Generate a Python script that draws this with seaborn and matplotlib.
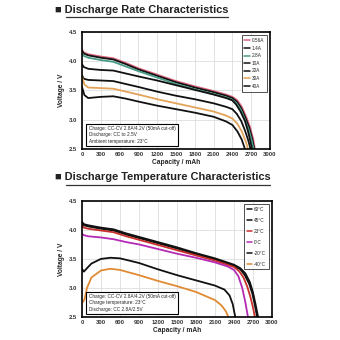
import numpy as np
import pandas as pd
import seaborn as sns
import matplotlib
matplotlib.use("Agg")
import matplotlib.pyplot as plt
from matplotlib.lines import Line2D

# ---------------- Discharge rate data ----------------
rate_labels = ["0.56A", "1.4A", "2.8A", "10A", "20A", "30A", "40A"]
rate_colors = ["#d9637a", "#111111", "#4a9a88", "#111111", "#111111", "#e3a35a", "#111111"]

cap_056 = [0, 30, 100, 300, 500, 700, 900, 1200, 1500, 1800, 2100, 2300, 2400, 2480, 2550, 2620, 2680, 2730, 2760]
v_056 = [4.20, 4.15, 4.12, 4.08, 4.05, 3.97, 3.88, 3.77, 3.66, 3.57, 3.49, 3.43, 3.39, 3.33, 3.22, 3.05, 2.88, 2.68, 2.50]
cap_14 = [0, 30, 100, 300, 500, 700, 900, 1200, 1500, 1800, 2100, 2300, 2400, 2470, 2540, 2610, 2670, 2720, 2750]
v_14 = [4.18, 4.13, 4.10, 4.06, 4.03, 3.95, 3.86, 3.75, 3.64, 3.55, 3.47, 3.41, 3.37, 3.31, 3.20, 3.03, 2.86, 2.66, 2.50]
cap_28 = [0, 30, 100, 300, 500, 700, 900, 1200, 1500, 1800, 2100, 2300, 2400, 2465, 2535, 2600, 2660, 2710, 2740]
v_28 = [4.14, 4.09, 4.06, 4.02, 3.99, 3.91, 3.83, 3.72, 3.61, 3.52, 3.44, 3.38, 3.34, 3.28, 3.17, 3.00, 2.83, 2.64, 2.50]
cap_10 = [0, 30, 100, 300, 500, 700, 900, 1200, 1500, 1800, 2100, 2300, 2400, 2460, 2530, 2600, 2650, 2690, 2715]
v_10 = [3.95, 3.90, 3.87, 3.85, 3.84, 3.79, 3.74, 3.67, 3.59, 3.51, 3.43, 3.37, 3.33, 3.26, 3.14, 2.98, 2.80, 2.62, 2.50]
cap_20 = [0, 30, 100, 300, 500, 700, 900, 1200, 1500, 1800, 2100, 2300, 2400, 2470, 2540, 2600, 2650, 2690]
v_20 = [3.76, 3.70, 3.68, 3.67, 3.66, 3.61, 3.56, 3.48, 3.41, 3.35, 3.28, 3.22, 3.18, 3.10, 2.98, 2.82, 2.66, 2.50]
cap_30 = [0, 40, 100, 300, 500, 700, 900, 1200, 1500, 1800, 2100, 2300, 2400, 2480, 2550, 2610, 2650]
v_30 = [3.74, 3.60, 3.55, 3.54, 3.53, 3.48, 3.43, 3.35, 3.28, 3.21, 3.14, 3.07, 3.02, 2.93, 2.80, 2.64, 2.50]
cap_40 = [0, 40, 100, 300, 500, 700, 900, 1200, 1500, 1800, 2100, 2300, 2400, 2480, 2550, 2600]
v_40 = [3.56, 3.42, 3.37, 3.39, 3.40, 3.36, 3.31, 3.24, 3.18, 3.12, 3.05, 2.97, 2.91, 2.80, 2.66, 2.50]

rate_caps = [cap_056, cap_14, cap_28, cap_10, cap_20, cap_30, cap_40]
rate_volts = [v_056, v_14, v_28, v_10, v_20, v_30, v_40]

# ---------------- Discharge temperature data ----------------
temp_labels = ["60\u00b0C", "45\u00b0C", "23\u00b0C", "0\u00b0C", "-20\u00b0C", "-40\u00b0C"]
temp_colors = ["#111111", "#111111", "#c8302c", "#b42ab4", "#111111", "#e08a34"]

cap_60 = [0, 30, 100, 300, 500, 700, 900, 1200, 1500, 1800, 2100, 2400, 2500, 2580, 2650, 2700, 2740, 2780]
v_60 = [4.14, 4.10, 4.08, 4.04, 4.01, 3.94, 3.88, 3.79, 3.70, 3.60, 3.51, 3.40, 3.34, 3.25, 3.10, 2.92, 2.72, 2.50]
cap_45 = [0, 30, 100, 300, 500, 700, 900, 1200, 1500, 1800, 2100, 2400, 2500, 2570, 2640, 2690, 2730, 2765]
v_45 = [4.12, 4.08, 4.06, 4.02, 3.99, 3.92, 3.86, 3.77, 3.68, 3.58, 3.49, 3.38, 3.32, 3.22, 3.07, 2.90, 2.70, 2.50]
cap_23 = [0, 30, 100, 300, 500, 700, 900, 1200, 1500, 1800, 2100, 2400, 2480, 2550, 2610, 2660, 2700, 2730]
v_23 = [4.08, 4.04, 4.02, 3.99, 3.96, 3.89, 3.83, 3.74, 3.65, 3.56, 3.47, 3.36, 3.29, 3.18, 3.02, 2.84, 2.66, 2.50]
cap_0 = [0, 30, 100, 300, 500, 700, 900, 1200, 1500, 1800, 2100, 2300, 2400, 2470, 2530, 2580, 2620]
v_0 = [3.93, 3.91, 3.89, 3.87, 3.84, 3.79, 3.75, 3.67, 3.59, 3.52, 3.44, 3.37, 3.31, 3.20, 3.00, 2.75, 2.50]
cap_m20 = [0, 30, 80, 150, 300, 450, 600, 900, 1200, 1500, 1800, 2100, 2250, 2330, 2380, 2420]
v_m20 = [3.33, 3.28, 3.34, 3.42, 3.50, 3.52, 3.51, 3.43, 3.32, 3.22, 3.13, 3.04, 2.97, 2.87, 2.72, 2.50]
cap_m40 = [20, 40, 80, 150, 300, 450, 600, 900, 1200, 1500, 1800, 2100, 2200, 2270, 2310]
v_m40 = [2.76, 2.80, 3.00, 3.18, 3.30, 3.33, 3.31, 3.22, 3.12, 3.03, 2.93, 2.79, 2.70, 2.60, 2.50]

temp_caps = [cap_60, cap_45, cap_23, cap_0, cap_m20, cap_m40]
temp_volts = [v_60, v_45, v_23, v_0, v_m20, v_m40]

x_ticks = [0, 300, 600, 900, 1200, 1500, 1800, 2100, 2400, 2700, 3000]
y_ticks = [2.5, 3.0, 3.5, 4.0, 4.5]

rate_note = ("Charge: CC-CV 2.8A/4.2V (50mA cut-off)\n"
             "Discharge: CC to 2.5V\n"
             "Ambient temperature: 23\u00b0C")
temp_note = ("Charge: CC-CV 2.8A/4.2V (50mA cut-off)\n"
             "Charge temperature: 23\u00b0C\n"
             "Discharge: CC 2.8A/2.5V")

sns.set_style("white")
plt.rcParams["font.family"] = ["Liberation Sans", "DejaVu Sans"]

fig = plt.figure(figsize=(3.4, 3.4), dpi=100)
fig.patch.set_facecolor("white")


def to_frame(labels, caps, volts):
    rows = []
    for lab, c, v in zip(labels, caps, volts):
        for ci, vi in zip(c, v):
            rows.append((lab, ci, vi))
    return pd.DataFrame(rows, columns=["series", "cap", "volt"])


def draw_panel(ax, labels, colors, caps, volts, note, spacing):
    df = to_frame(labels, caps, volts)
    sns.lineplot(data=df, x="cap", y="volt", hue="series", hue_order=labels,
                 palette=dict(zip(labels, colors)), sort=False, estimator=None,
                 linewidth=1.3, ax=ax, legend=False)
    ax.set_xlim(0, 3000)
    ax.set_ylim(2.5, 4.5)
    ax.set_xticks(x_ticks)
    ax.set_yticks(y_ticks)
    ax.set_xticklabels([str(t) for t in x_ticks], fontsize=4.2, fontweight="bold", color="#333333")
    ax.set_yticklabels([f"{t:.1f}" for t in y_ticks], fontsize=4.2, fontweight="bold", color="#333333")
    ax.tick_params(axis="x", length=0, pad=2.5)
    ax.tick_params(axis="y", length=0, pad=3.5)
    ax.grid(True, color="#d8d8d8", linewidth=0.5)
    for s in ax.spines.values():
        s.set_visible(True)
        s.set_color("black")
        s.set_linewidth(1.2)
    ax.set_xlabel("Capacity / mAh", fontsize=4.8, fontweight="bold", labelpad=1.5)
    ax.set_ylabel("Voltage / V", fontsize=4.8, fontweight="bold", labelpad=3)
    handles = [Line2D([0], [0], color=c, lw=1.1) for c in colors]
    leg = ax.legend(handles, labels, loc="upper right", fontsize=3.4,
                    frameon=True, fancybox=False, handlelength=1.2,
                    handletextpad=0.3, labelspacing=spacing,
                    borderpad=0.6, borderaxespad=0.7)
    leg.get_frame().set_edgecolor("black")
    leg.get_frame().set_linewidth(0.6)
    ax.text(0.035, 0.045, note, transform=ax.transAxes, fontsize=3.4,
            va="bottom", ha="left", linespacing=1.3,
            bbox=dict(boxstyle="square,pad=0.5", fc="white", ec="black", lw=0.8))


ax1 = fig.add_axes([0.241, 0.562, 0.553, 0.344])
draw_panel(ax1, rate_labels, rate_colors, rate_caps, rate_volts, rate_note, 0.55)

ax2 = fig.add_axes([0.241, 0.068, 0.559, 0.341])
draw_panel(ax2, temp_labels, temp_colors, temp_caps, temp_volts, temp_note, 1.25)

# Section headings with underline
for y_txt, text, x_end in [(0.972, "\u25a0 Discharge Rate Characteristics", 0.672),
                           (0.478, "\u25a0 Discharge Temperature Characteristics", 0.795)]:
    fig.text(0.162, y_txt, text, fontsize=7.9, fontweight="bold",
             ha="left", va="center", color="#222222",
             family=["Liberation Sans", "DejaVu Sans"])
    fig.add_artist(Line2D([0.195, x_end], [y_txt - 0.022, y_txt - 0.022],
                          color="#333333", lw=0.9, transform=fig.transFigure))

fig.savefig("out.png", dpi=100, facecolor="white")
